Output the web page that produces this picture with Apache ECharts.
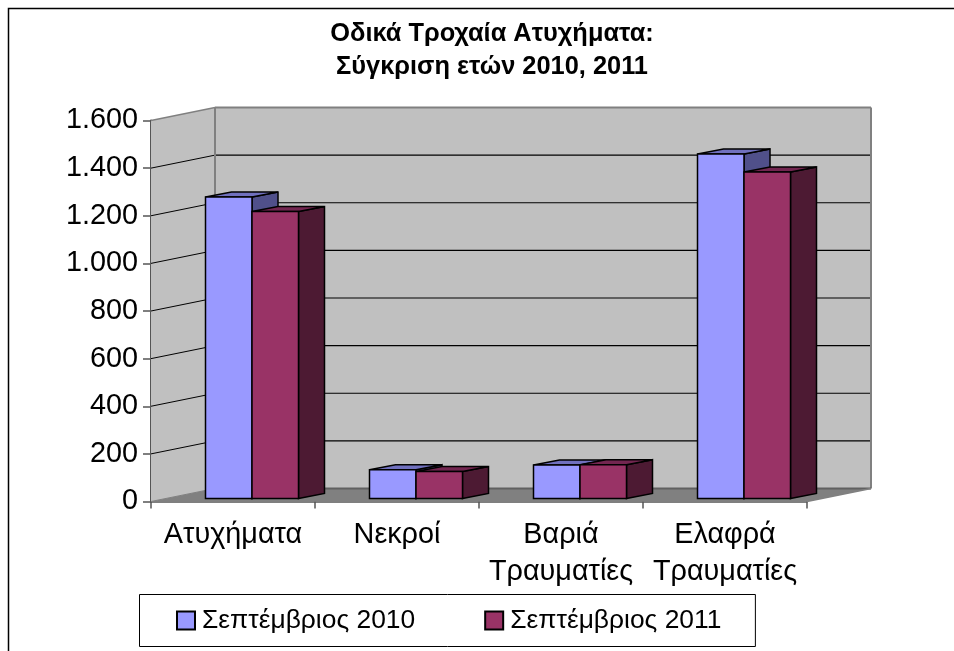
<!DOCTYPE html>
<html><head><meta charset="utf-8">
<style>html,body{margin:0;padding:0;background:#fff}#c{width:954px;height:651px}</style>
<script src="https://cdn.jsdelivr.net/npm/echarts@6/dist/echarts.min.js"></script>
</head><body><div id="c"></div>
<script>
const categories = ['Ατυχήματα','Νεκροί','Βαριά\nΤραυματίες','Ελαφρά\nΤραυματίες'];
const series2010 = [1266,121,141,1447];
const series2011 = [1205,113,142,1371];
const yTicks = [0,200,400,600,800,1000,1200,1400,1600];
const names = ['Σεπτέμβριος 2010','Σεπτέμβριος 2011'];
const titleText = 'Οδικά Τροχαία Ατυχήματα:\nΣύγκριση ετών 2010, 2011';

const WALL_DX = 64, WALL_DY = -13;
const BAR_DX = 26, BAR_DY = -5, BAR_OFF_X = 19, BAR_OFF_Y = -3, BAR_W = 46.5;
const FF = '"Liberation Sans", Arial, sans-serif';

function poly(points, fill, stroke, lw){
  return {type:'polygon', shape:{points}, style:{fill, stroke:stroke||'none', lineWidth:lw||0}};
}
function line(a,b,stroke,lw){
  return {type:'line', shape:{x1:a[0],y1:a[1],x2:b[0],y2:b[1]}, style:{stroke,lineWidth:lw||1}};
}
function sceneItem(params, api){
  if(params.dataIndex!==0) return {type:'group',children:[]};
  const n = categories.length;
  const band = api.size([1,0])[0];
  const x0 = api.coord([0,0])[0]-band/2, x1 = api.coord([n-1,0])[0]+band/2;
  const y0 = api.coord([0,0])[1], yT = api.coord([0,1600])[1];
  const b = (x,y)=>[x+WALL_DX,y+WALL_DY];
  const ch = [];
  ch.push(poly([[x0,y0],[x0,yT],b(x0,yT),b(x0,y0)],'#C0C0C0'));
  ch.push(poly([b(x0,yT),b(x1,yT),b(x1,y0),b(x0,y0)],'#C0C0C0'));
  ch.push(poly([[x0,y0],[x1,y0],b(x1,y0),b(x0,y0)],'#808080'));
  yTicks.forEach(v=>{
    const y = api.coord([0,v])[1];
    if(v>0 && v<1600){
      ch.push(line([x0,y],b(x0,y),'#000',1));
      ch.push(line(b(x0,y),b(x1,y),'#000',1.2));
    }
  });
  ch.push(line([x0,yT],b(x0,yT),'#808080',1.5));
  ch.push(line(b(x0,yT),b(x1,yT),'#808080',2));
  ch.push(line(b(x1,yT),b(x1,y0),'#808080',2));
  ch.push(line(b(x0,yT),b(x0,y0),'#808080',2));
  ch.push(line(b(x0,y0),b(x1,y0),'#606060',2));
  ch.push(line(b(x1,y0),[x1,y0],'#808080',1.5));
  ch.push(line([x0,y0],b(x0,y0),'#808080',1));
  return {type:'group',children:ch};
}
function barItem(idx, front, side, top){
  return function(params, api){
    const c = api.value(0), v = api.value(1);
    const cx = api.coord([c,0])[0] + BAR_OFF_X;
    const yb = api.coord([c,0])[1] + BAR_OFF_Y;
    const yt = api.coord([c,v])[1] + BAR_OFF_Y;
    const l = cx + (idx-1)*BAR_W, r = l + BAR_W;
    const s = '#000', w = 1.5;
    return {type:'group',children:[
      poly([[r,yb],[r+BAR_DX,yb+BAR_DY],[r+BAR_DX,yt+BAR_DY],[r,yt]],side,s,w),
      poly([[l,yt],[l+BAR_DX,yt+BAR_DY],[r+BAR_DX,yt+BAR_DY],[r,yt]],top,s,w),
      poly([[l,yb],[r,yb],[r,yt],[l,yt]],front,s,w)
    ]};
  };
}
const chart = echarts.init(document.getElementById('c'),null,{renderer:'canvas'});
chart.setOption({
  animation:false,
  backgroundColor:'#fff',
  title:{text:titleText,left:487,textAlign:'center',top:12,
    textStyle:{fontFamily:FF,fontSize:25.4,fontWeight:'bold',color:'#000',lineHeight:33}},
  grid:{left:151,right:147,top:120.5,height:381,containLabel:false},
  legend:{left:139.5,top:594.5,itemGap:69,itemWidth:18,itemHeight:18,
    padding:[13,34,13,36.5],
    data:names.map(n=>({name:n,icon:'rect'})),
    selectedMode:false,borderColor:'#000',borderWidth:1,
    textStyle:{fontFamily:FF,fontSize:26.4,color:'#000',padding:[0,0,0,2]}},
  xAxis:{type:'category',data:categories,
    axisLine:{show:true,lineStyle:{color:'#555',width:1.5}},
    axisTick:{show:true,length:7,alignWithLabel:false,lineStyle:{color:'#555',width:1.5}},
    axisLabel:{interval:0,margin:15,fontFamily:FF,fontSize:28.8,color:'#000',lineHeight:37}},
  yAxis:{type:'value',min:0,max:1600,interval:200,
    axisLine:{show:true,lineStyle:{color:'#555',width:2}},
    axisTick:{show:true,length:8,lineStyle:{color:'#555',width:1.5}},
    splitLine:{show:false},
    axisLabel:{margin:13,fontFamily:FF,fontSize:28.8,color:'#000',
      formatter:v=>String(v).replace(/\B(?=(\d{3})+$)/g,'.')}},
  series:[
    {type:'custom',name:'scene',coordinateSystem:'cartesian2d',clip:false,z:1,silent:true,
     renderItem:sceneItem,data:[[0,0]],encode:{x:0,y:1}},
    {type:'custom',name:names[0],coordinateSystem:'cartesian2d',clip:false,z:2,
     itemStyle:{color:'#9999FF',borderColor:'#000',borderWidth:1.5},
     renderItem:barItem(0,'#9999FF','#50508A','#7070BE'),
     data:series2010.map((v,i)=>[i,v]),encode:{x:0,y:1}},
    {type:'custom',name:names[1],coordinateSystem:'cartesian2d',clip:false,z:3,
     itemStyle:{color:'#993366',borderColor:'#000',borderWidth:1.5},
     renderItem:barItem(1,'#993366','#4D1A33','#732650'),
     data:series2011.map((v,i)=>[i,v]),encode:{x:0,y:1}}
  ],
  graphic:[{type:'polyline',silent:true,z:100,shape:{points:[[8.5,660],[8.5,8.5],[960,8.5]]},
    style:{fill:'none',stroke:'#000',lineWidth:1.5}}]
});
</script></body></html>
